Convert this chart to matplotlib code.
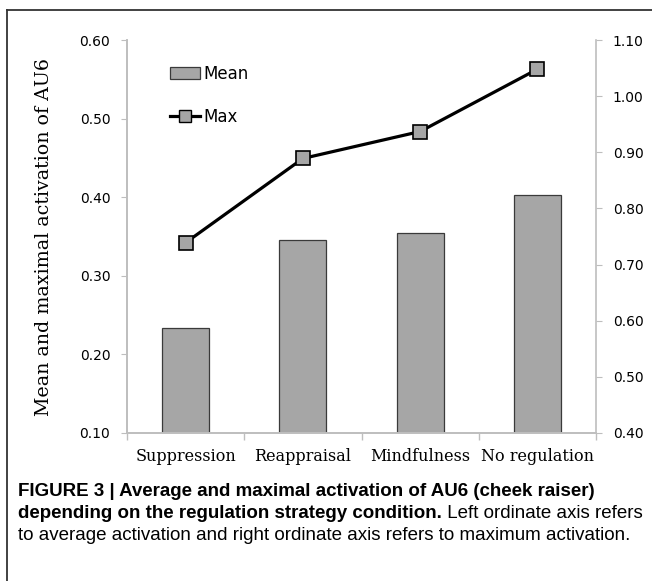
import matplotlib as mpl
import numpy as np
from matplotlib import pyplot as plt
from matplotlib import font_manager
from matplotlib.lines import Line2D
from matplotlib.patches import Patch

categories = ["Suppression", "Reappraisal", "Mindfulness", "No regulation"]
mean_values = [0.234, 0.345, 0.354, 0.403]
max_values = [0.739, 0.889, 0.937, 1.048]
left_ticks = [0.10, 0.20, 0.30, 0.40, 0.50, 0.60]
right_ticks = [0.40, 0.50, 0.60, 0.70, 0.80, 0.90, 1.00, 1.10]

names = {f.name for f in font_manager.fontManager.ttflist}
caption_font = 'Liberation Sans Narrow' if 'Liberation Sans Narrow' in names else 'Liberation Sans'

bar_color = '#A6A6A6'
axis_color = '#BEBEBE'

fig = plt.figure(figsize=(6.52, 5.81), dpi=100, facecolor='white')
ax = fig.add_axes([127/652, 1 - 433/581, (596 - 127)/652, (433 - 40)/581])
ax2 = ax.twinx()

x = np.arange(len(categories))
ax.bar(x, mean_values, width=0.4, color=bar_color, edgecolor='#3A3A3A', linewidth=0.9)
ax.set_xlim(-0.5, len(categories) - 0.5)
ax.set_ylim(left_ticks[0], left_ticks[-1])
ax.set_yticks(left_ticks, [f"{v:.2f}" for v in left_ticks])
ax.set_xticks(x, categories, family='DejaVu Serif', fontsize=11.5)
ax.set_xticks(np.arange(len(categories) + 1) - 0.5, minor=True)
ax.tick_params(axis='x', which='major', length=0, pad=11)
ax.tick_params(axis='x', which='minor', length=5, color=axis_color, width=1)
ax.tick_params(axis='y', length=4, color=axis_color, labelsize=10, pad=8)
ax.set_ylabel("Mean and maximal activation of AU6", family='DejaVu Serif', fontsize=13.7, labelpad=19)

ax2.plot(x, max_values, color='black', linewidth=2.3, marker='s', markersize=10,
         markerfacecolor=bar_color, markeredgecolor='black', markeredgewidth=1.2)
ax2.set_ylim(right_ticks[0], right_ticks[-1])
ax2.set_yticks(right_ticks, [f"{v:.2f}" for v in right_ticks])
ax2.tick_params(axis='y', length=4, color=axis_color, labelsize=10, pad=8)

for a in (ax, ax2):
    a.spines['top'].set_visible(False)
    for s in ('left', 'right', 'bottom'):
        a.spines[s].set_color(axis_color)
        a.spines[s].set_linewidth(1.2)
ax.spines['right'].set_visible(False)

handles = [
    Patch(facecolor=bar_color, edgecolor='#3A3A3A', linewidth=0.9),
    Line2D([], [], color='black', linewidth=2.3, marker='s', markersize=9,
           markerfacecolor=bar_color, markeredgecolor='black'),
]
ax2.legend(handles, ["Mean", "Max"], loc='upper left', bbox_to_anchor=(0.077, 0.953),
           frameon=False, fontsize=12, handlelength=1.8, handletextpad=0.2,
           labelspacing=1.5, borderaxespad=0)

# frame lines (top and left)
fig.add_artist(Line2D([7/652, 1], [1 - 10/581, 1 - 10/581], color='#333333', linewidth=1.3))
fig.add_artist(Line2D([7/652, 7/652], [0, 1 - 10/581], color='#333333', linewidth=1.3))

# caption
cx = 18/652
fig.text(cx, 1 - 492/581, "FIGURE 3 | Average and maximal activation of AU6 (cheek raiser)",
         family=caption_font, fontweight='bold', fontsize=13.5, va='center', ha='left')
t = fig.text(cx, 1 - 514/581, "depending on the regulation strategy condition.",
             family=caption_font, fontweight='bold', fontsize=13.5, va='center', ha='left')
ax.annotate(" Left ordinate axis refers", xy=(1, 0.5), xycoords=t, va='center', ha='left',
            family=caption_font, fontsize=13.5, annotation_clip=False)
fig.text(cx, 1 - 536/581, "to average activation and right ordinate axis refers to maximum activation.",
         family=caption_font, fontsize=13.5, va='center', ha='left')

fig.savefig('out.png', dpi=100, facecolor='white')
